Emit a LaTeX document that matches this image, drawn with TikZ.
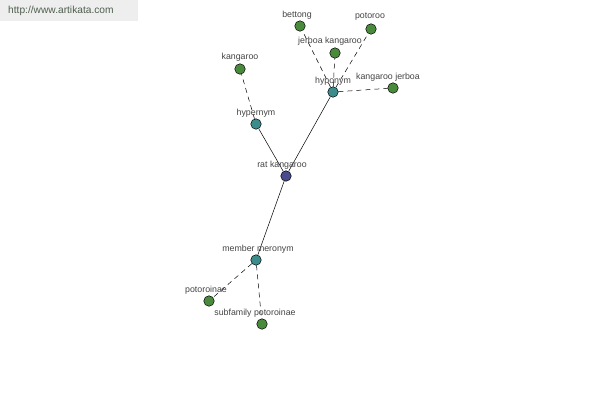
\documentclass[tikz,border=0pt]{standalone}
\usepackage{fontspec}
\setmainfont{Liberation Sans}
\begin{document}
\begin{tikzpicture}[x=1pt,y=-1pt,
  dot/.style={circle,draw=black,line width=0.5pt,minimum size=10.5pt,inner sep=0pt},
  root/.style={dot,fill=rootc},
  mid/.style={dot,fill=midc},
  leaf/.style={dot,fill=leafc},
  lbl/.style={font=\fontsize{8.8}{9}\selectfont,text=txtc,inner sep=0pt},
  solidedge/.style={draw=black,line width=0.5pt},
  dashedge/.style={draw=black,line width=0.5pt,dash pattern=on 5pt off 4pt}]
\definecolor{rootc}{HTML}{4A4A8E}
\definecolor{midc}{HTML}{3C8C8C}
\definecolor{leafc}{HTML}{4A8A3C}
\definecolor{txtc}{HTML}{444444}
\definecolor{wmbg}{HTML}{EEEEEE}
\definecolor{wmtxt}{HTML}{4E5E4E}
\useasboundingbox (0,0) rectangle (600,400);
\fill[white] (0,0) rectangle (600,400);
\fill[wmbg] (0,0) rectangle (138,21);
\node[anchor=west,font=\fontsize{10.2}{11}\selectfont,text=wmtxt,inner sep=0pt] (wm) at (8,11) {http://www.artikata.com};
% nodes
\node[root] (rk) at (286,176) {};
\node[mid] (hyper) at (256,124) {};
\node[mid] (hypo) at (333,92) {};
\node[mid] (mm) at (256,260) {};
\node[leaf] (kang) at (240,69) {};
\node[leaf] (bett) at (300,26) {};
\node[leaf] (jk) at (335,53) {};
\node[leaf] (pot) at (371,29) {};
\node[leaf] (kj) at (393,88) {};
\node[leaf] (poti) at (209,301) {};
\node[leaf] (subp) at (262,324) {};
% edges
\draw[solidedge] (rk) -- (hyper);
\draw[solidedge] (rk) -- (hypo);
\draw[solidedge] (rk) -- (mm);
\draw[dashedge] (hyper) -- (kang);
\draw[dashedge] (hypo) -- (bett);
\draw[dashedge] (hypo) -- (jk);
\draw[dashedge] (hypo) -- (pot);
\draw[dashedge] (hypo) -- (kj);
\draw[dashedge] (mm) -- (poti);
\draw[dashedge] (mm) -- (subp);
% labels
\node[lbl] (lrk) at (282,165) {rat kangaroo};
\node[lbl] (lhyper) at (256,113) {hypernym};
\node[lbl] (lhypo) at (333,81) {hyponym};
\node[lbl] (lmm) at (258,249) {member meronym};
\node[lbl] (lkang) at (240,57) {kangaroo};
\node[lbl] (lbett) at (297,15) {bettong};
\node[lbl] (ljk) at (330,41) {jerboa kangaroo};
\node[lbl] (lpot) at (370,17) {potoroo};
\node[lbl] (lkj) at (388,77) {kangaroo jerboa};
\node[lbl] (lpoti) at (206,290) {potoroinae};
\node[lbl] (lsubp) at (255,313) {subfamily potoroinae};
\end{tikzpicture}
\end{document}
